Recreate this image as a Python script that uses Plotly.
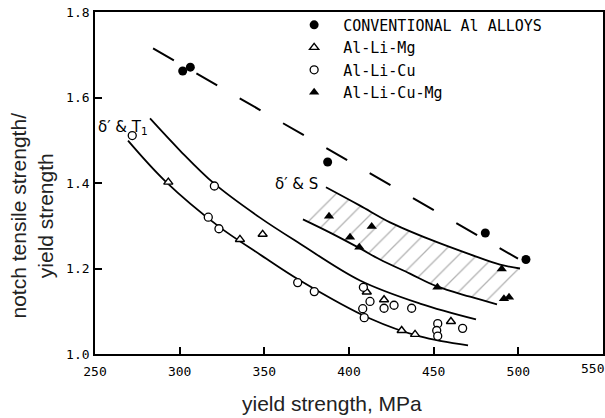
import plotly.graph_objects as go

# ---- measured data: yield strength (MPa) vs notch tensile / yield strength ----
conv_x = [301.8, 306.3, 387.4, 480.5, 504.5]
conv_y = [1.662, 1.671, 1.449, 1.283, 1.221]

limg_x = [293.3, 335.6, 349.0, 410.5, 420.7, 431.1, 439.0, 460.2]
limg_y = [1.402, 1.268, 1.280, 1.145, 1.127, 1.055, 1.046, 1.076]

licu_x = [272.0, 320.5, 316.9, 323.2, 369.7, 379.5, 408.5, 412.4, 408.1, 409.0,
          420.7, 426.6, 437.0, 452.4, 451.8, 452.4, 467.1]
licu_y = [1.511, 1.393, 1.320, 1.293, 1.167, 1.146, 1.156, 1.123, 1.106, 1.085,
          1.107, 1.114, 1.107, 1.071, 1.055, 1.042, 1.060]

licumg_x = [388.2, 413.4, 400.6, 406.1, 452.2, 490.2, 491.5, 494.5]
licumg_y = [1.322, 1.298, 1.273, 1.250, 1.156, 1.199, 1.129, 1.133]

# trend line for conventional alloys
conv_trend_x = [284.3, 499.8]
conv_trend_y = [1.715, 1.223]

# delta' & T1 band (Al-Li-Cu / Al-Li-Mg)
t1_upper_x = [282.5, 300.2, 320.3, 347.4, 371.1, 406.5, 441.9, 475.0]
t1_upper_y = [1.551, 1.476, 1.399, 1.319, 1.258, 1.172, 1.118, 1.081]
t1_lower_x = [269.5, 291.3, 323.2, 347.4, 371.1, 412.4, 441.9, 470.3]
t1_lower_y = [1.499, 1.405, 1.298, 1.233, 1.172, 1.083, 1.041, 1.020]

# delta' & S band (Al-Li-Cu-Mg), hatched
s_upper_x = [386.4, 406.5, 424.2, 447.8, 471.5, 489.2, 501.0]
s_upper_y = [1.390, 1.347, 1.308, 1.268, 1.233, 1.209, 1.200]
s_lower_x = [372.8, 388.8, 406.5, 418.3, 436.0, 452.0, 471.5, 487.4]
s_lower_y = [1.315, 1.284, 1.247, 1.221, 1.188, 1.158, 1.134, 1.116]

x_ticks = [250, 300, 350, 400, 450, 500]
y_ticks = [1.0, 1.2, 1.4, 1.6, 1.8]

TICK_FONT = "DejaVu Sans Mono"
TITLE_FONT = "Liberation Sans, Arial, sans-serif"
PAD = "\u00a0"  # widens the gap between legend symbol and its label

fig = go.Figure()

curve = dict(color="black", width=1.8, shape="spline", smoothing=1.0)

fig.add_trace(go.Scatter(x=conv_trend_x, y=conv_trend_y, mode="lines",
                         line=dict(color="black", width=2, dash="24px,26px"),
                         showlegend=False, hoverinfo="skip"))
fig.add_trace(go.Scatter(x=t1_upper_x, y=t1_upper_y, mode="lines", line=curve,
                         showlegend=False, hoverinfo="skip"))
fig.add_trace(go.Scatter(x=t1_lower_x, y=t1_lower_y, mode="lines", line=curve,
                         showlegend=False, hoverinfo="skip"))
fig.add_trace(go.Scatter(x=s_upper_x, y=s_upper_y, mode="lines", line=curve,
                         showlegend=False, hoverinfo="skip"))
fig.add_trace(go.Scatter(x=s_lower_x, y=s_lower_y, mode="lines", line=curve,
                         fill="tonexty", fillcolor="rgba(0,0,0,0)",
                         fillpattern=dict(shape="/", size=13, solidity=0.1,
                                          fgcolor="#666", bgcolor="rgba(0,0,0,0)"),
                         showlegend=False, hoverinfo="skip"))

fig.add_trace(go.Scatter(x=conv_x, y=conv_y, mode="markers",
                         name=PAD + "CONVENTIONAL Al ALLOYS",
                         marker=dict(symbol="circle", size=9, color="black")))
fig.add_trace(go.Scatter(x=limg_x, y=limg_y, mode="markers", name=PAD + "Al-Li-Mg",
                         marker=dict(symbol="triangle-up", size=8, color="white",
                                     line=dict(color="black", width=1.4))))
fig.add_trace(go.Scatter(x=licu_x, y=licu_y, mode="markers", name=PAD + "Al-Li-Cu",
                         marker=dict(symbol="circle", size=8, color="white",
                                     line=dict(color="black", width=1.3))))
fig.add_trace(go.Scatter(x=licumg_x, y=licumg_y, mode="markers",
                         name=PAD + "Al-Li-Cu-Mg",
                         marker=dict(symbol="triangle-up", size=9, color="black")))

annotations = [
    dict(x=266.5, y=1.529, xref="x", yref="y", text="δ′ & T<sub>1</sub>",
         showarrow=False, font=dict(family="DejaVu Sans", size=15, color="black")),
    dict(x=368.7, y=1.398, xref="x", yref="y", text="δ′ & S",
         showarrow=False, font=dict(family="DejaVu Sans", size=15, color="black")),
    dict(x=550, y=1.0, xref="x", yref="y", text="550", showarrow=False,
         xshift=-11, yshift=-14, font=dict(family=TICK_FONT, size=13, color="black")),
    dict(x=0.4665, y=-0.145, xref="paper", yref="paper",
         xanchor="center", yanchor="middle",
         text="yield strength, MPa", showarrow=False,
         font=dict(family=TITLE_FONT, size=21, color="#222")),
    dict(x=-0.124, y=0.405, xref="paper", yref="paper", textangle=-90,
         xanchor="center", yanchor="middle",
         text="notch tensile strength/<br>yield strength", showarrow=False,
         font=dict(family=TITLE_FONT, size=21, color="#222")),
]

axis_common = dict(showline=True, linecolor="black", linewidth=1.7, mirror=True,
                   ticks="inside", ticklen=7, tickwidth=1.5, tickcolor="black",
                   showgrid=False, zeroline=False, automargin=False,
                   tickfont=dict(family=TICK_FONT, size=13, color="black"))

fig.update_layout(
    width=605, height=418,
    margin=dict(l=95, r=2, t=12, b=64),
    paper_bgcolor="white", plot_bgcolor="white",
    xaxis=dict(range=[250, 550], tickvals=x_ticks, ticklabelstandoff=5, **axis_common),
    yaxis=dict(range=[1.0, 1.8], tickvals=y_ticks, tickformat=".1f",
               ticklabelstandoff=1, **axis_common),
    legend=dict(x=0.392, y=1.01, xanchor="left", yanchor="top",
                traceorder="normal",
                font=dict(family=TICK_FONT, size=15, color="black"),
                bgcolor="rgba(0,0,0,0)", borderwidth=0, itemwidth=30),
    annotations=annotations,
    showlegend=True,
)

fig.write_html("out.html")
